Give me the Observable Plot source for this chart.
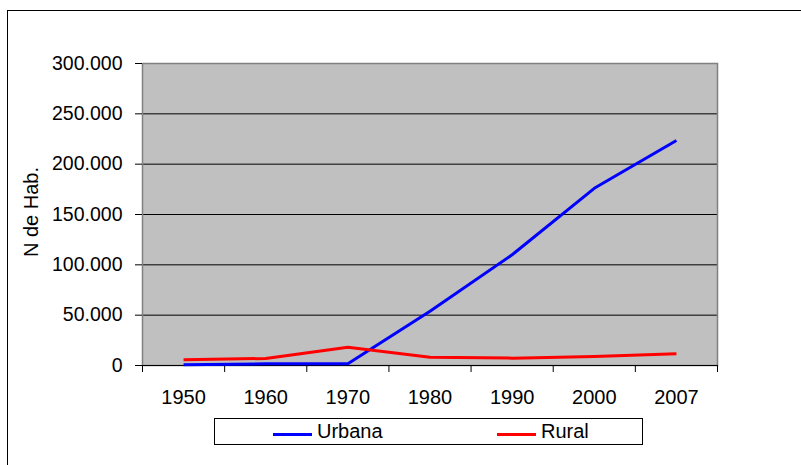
<!DOCTYPE html>
<html>
<head>
<meta charset="utf-8">
<script src="https://cdn.jsdelivr.net/npm/d3@7"></script>
<script src="https://cdn.jsdelivr.net/npm/@observablehq/plot@0.6"></script>
<style>
  html, body { margin: 0; padding: 0; background: #fff; }
  #wrap { position: relative; width: 801px; height: 465px; overflow: hidden; font-family: "Liberation Sans", Arial, sans-serif; }
  #outer { position: absolute; left: 7px; top: 10px; width: 820px; height: 480px; border-left: 1.5px solid #000; border-top: 1.5px solid #000; box-sizing: border-box; }
  #chart { position: absolute; left: 0; top: 0; }
  #legend { position: absolute; left: 214px; top: 418px; width: 429px; height: 27px; border: 1px solid #000; box-sizing: border-box; background: #fff; font-size: 20px; color: #000; }
  .item { position: absolute; top: 0; height: 25px; line-height: 25px; }
  .sw { position: absolute; top: 13.5px; height: 3px; width: 39px; }
</style>
</head>
<body>
<div id="wrap">
  <div id="outer"></div>
  <div id="chart"></div>
  <div id="legend"></div>
</div>
<script>
const years = ["1950", "1960", "1970", "1980", "1990", "2000", "2007"];
const urbana = [700, 1700, 1700, 54000, 110000, 176000, 223500];
const rural = [5700, 7000, 18200, 8300, 7300, 8900, 11600];
const yTicks = [0, 50000, 100000, 150000, 200000, 250000, 300000];
const seriesNames = ["Urbana", "Rural"];
const seriesColors = ["#0000FF", "#FF0000"];

const rows = [];
years.forEach((y, i) => {
  rows.push({i, year: y, value: urbana[i], serie: "Urbana"});
  rows.push({i, year: y, value: rural[i], serie: "Rural"});
});

const fmt = v => d3.format(",")(v).replace(/,/g, ".");
const idx = years.map((_, i) => i);
const bounds = years.map((_, i) => i - 0.5).concat([years.length - 0.5]);

const plot = Plot.plot({
  width: 801,
  height: 465,
  marginLeft: 142,
  marginRight: 84,
  marginTop: 63,
  marginBottom: 100,
  style: { fontFamily: "Liberation Sans, Arial, sans-serif", fontSize: "19.5px", color: "#000", background: "transparent" },
  x: { type: "linear", domain: [-0.5, years.length - 0.5] },
  y: { domain: [0, 300000] },
  color: { domain: seriesNames, range: seriesColors },
  marks: [
    Plot.frame({ fill: "#C0C0C0", stroke: null }),
    Plot.gridY(yTicks.filter(t => t > 0 && t < 300000), { stroke: "#000", strokeOpacity: 1, strokeWidth: 1 }),
    Plot.frame({ stroke: "#808080", strokeWidth: 1.5 }),
    Plot.ruleY([0], { stroke: "#000", strokeWidth: 1 }),
    Plot.axisY({ ticks: yTicks, tickFormat: fmt, tickSize: 7, tickPadding: 13, label: null, stroke: "#000", fontSize: "19.5px" }),
    Plot.axisX({ ticks: bounds, tickFormat: () => "", tickSize: 7, label: null, stroke: "#000" }),
    Plot.axisX({ ticks: idx, tickFormat: i => years[i], tickSize: 0, tickPadding: 24, label: null, fontSize: "20px" }),
    Plot.line(rows, { x: "i", y: "value", z: "serie", stroke: "serie", strokeWidth: 3, strokeLinejoin: "round", strokeLinecap: "butt" })
  ]
});
document.getElementById("chart").appendChild(plot);

d3.select(plot).append("text")
  .attr("transform", "translate(31,212) rotate(-90)")
  .attr("text-anchor", "middle")
  .attr("dominant-baseline", "central")
  .attr("fill", "#000")
  .style("font-size", "20px")
  .text("N de Hab.");

const legend = d3.select("#legend");
const items = [{x: 58, tx: 102}, {x: 282, tx: 326}];
seriesNames.forEach((name, k) => {
  legend.append("div").attr("class", "sw")
    .style("left", items[k].x + "px").style("background", seriesColors[k]);
  legend.append("div").attr("class", "item")
    .style("left", items[k].tx + "px").text(name);
});
</script>
</body>
</html>
